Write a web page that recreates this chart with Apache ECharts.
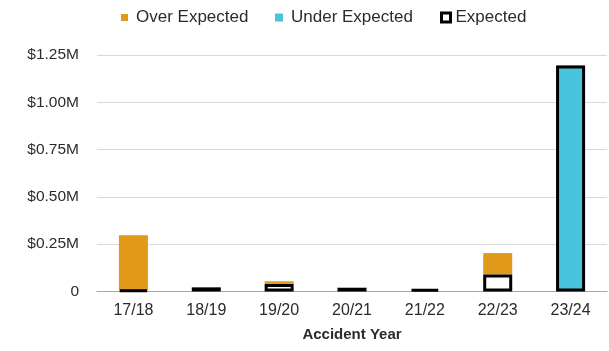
<!DOCTYPE html>
<html>
<head>
<meta charset="utf-8">
<script src="https://cdn.jsdelivr.net/npm/echarts@6/dist/echarts.min.js"></script>
<style>
    html, body { margin: 0; padding: 0; background: #fff; }
    #chart { width: 609px; height: 351px; }
</style>
</head>
<body>
<div id="chart"></div>
<script>
// values in $M
var years = ['17/18', '18/19', '19/20', '20/21', '21/22', '22/23', '23/24'];
var expected = [0.008, 0.022, 0.04, 0.02, 0.012, 0.09, 1.195];
var overExpected = [0.289, '-', 0.014, '-', '-', 0.113, '-'];
var underExpected = ['-', '-', '-', '-', '-', '-', 1.195];
var yTicks = [0, 0.25, 0.5, 0.75, 1.0, 1.25];

var FONT = 'Liberation Sans';
var TEXT = '#2b2b2b';

var chart = echarts.init(document.getElementById('chart'));

/* ---------- legends, one per item so icons can differ in size ---------- */
var legendText = { fontFamily: FONT, fontSize: 17, color: TEXT };

var option = {
    animation: false,
    legend: [{
        data: ['Over Expected'],
        left: 121, top: 9, padding: 0,
        itemWidth: 7, itemHeight: 7, icon: 'rect',
        textStyle: Object.assign({ padding: [0, 0, 0, 3] }, legendText)
    }, {
        data: ['Under Expected'],
        left: 275, top: 9, padding: 0,
        itemWidth: 8, itemHeight: 8, icon: 'rect',
        textStyle: Object.assign({ padding: [0, 0, 0, 3] }, legendText)
    }, {
        data: ['Expected'],
        left: 440, top: 9, padding: 0,
        itemWidth: 9, itemHeight: 9, icon: 'rect',
        itemStyle: { color: '#fff', borderColor: '#000', borderWidth: 3 },
        textStyle: legendText
    }],
    grid: {
        left: 97, right: 2, top: 55, bottom: 59.5
    },
    xAxis: {
        type: 'category',
        data: years,
        axisTick: { show: false },
        axisLine: { lineStyle: { color: '#a6a6a6', width: 1 } },
        axisLabel: { fontFamily: FONT, fontSize: 16, color: TEXT, margin: 11 },
        name: 'Accident Year',
        nameLocation: 'middle',
        nameGap: 36,
        nameTextStyle: { fontFamily: FONT, fontSize: 15, fontWeight: 'bold', color: TEXT }
    },
    yAxis: {
        type: 'value',
        min: yTicks[0],
        max: yTicks[yTicks.length - 1],
        interval: 0.25,
        axisLine: { show: false },
        axisTick: { show: false },
        splitLine: { lineStyle: { color: '#d9d9d9', width: 1 } },
        axisLabel: {
            fontFamily: FONT, fontSize: 15.5, color: TEXT, margin: 18,
            formatter: function (v) {
                return v === 0 ? '0' : '$' + v.toFixed(2) + 'M';
            }
        }
    },
    series: [{
        name: 'Expected',
        type: 'bar',
        stack: 'a',
        data: expected,
        barWidth: 29,
        barGap: '-100%',
        z: 4,
        itemStyle: { color: 'rgba(255,255,255,0)', borderColor: '#000', borderWidth: 3 }
    }, {
        name: 'Over Expected',
        type: 'bar',
        stack: 'a',
        data: overExpected,
        barWidth: 29,
        barGap: '-100%',
        z: 3,
        itemStyle: { color: '#e1991a' }
    }, {
        name: 'Under Expected',
        type: 'bar',
        data: underExpected,
        barWidth: 29,
        barGap: '-100%',
        z: 2,
        itemStyle: { color: '#48c5dd' }
    }]
};

chart.setOption(option);
</script>
</body>
</html>
